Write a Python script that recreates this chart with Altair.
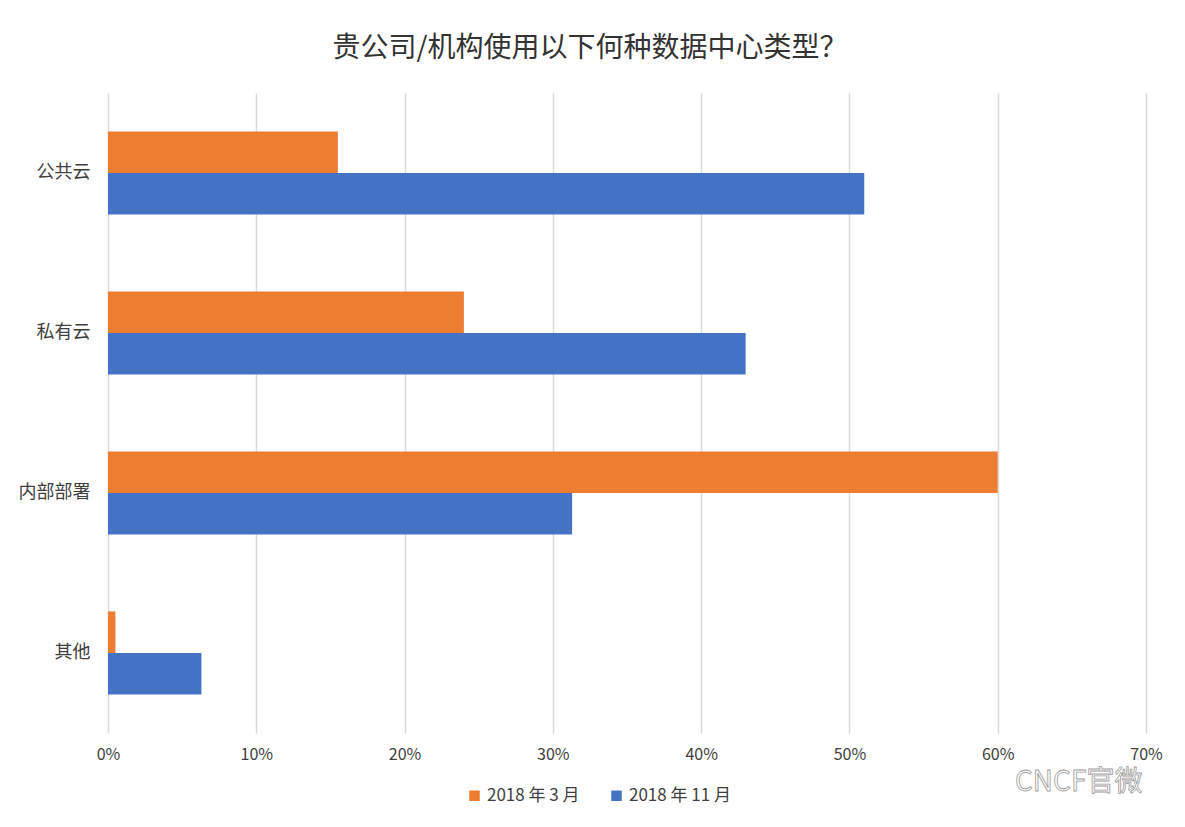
import altair as alt
import pandas as pd

categories = ["公共云", "私有云", "内部部署", "其他"]
series = ["2018 年 3 月", "2018 年 11 月"]
mar_2018 = [0.155, 0.24, 0.60, 0.005]
nov_2018 = [0.51, 0.43, 0.313, 0.063]
colors = ["#ED7D31", "#4472C4"]
title_text = "贵公司/机构使用以下何种数据中心类型？"
watermark = "CNCF官微"

rows = []
for c, a, b in zip(categories, mar_2018, nov_2018):
    rows.append({"cat": c, "series": series[0], "value": a})
    rows.append({"cat": c, "series": series[1], "value": b})
df = pd.DataFrame(rows)

FONT = "Noto Sans CJK SC"

bars = alt.Chart(df).mark_bar().encode(
    x=alt.X("value:Q",
            scale=alt.Scale(domain=[0, 0.7], nice=False),
            axis=alt.Axis(format=".0%", values=[0, 0.1, 0.2, 0.3, 0.4, 0.5, 0.6, 0.7],
                          title=None, domain=False, ticks=False, labelFlush=False,
                          grid=True, gridColor="#d9d9d9", gridWidth=1.5,
                          labelFont=FONT, labelFontSize=16, labelColor="#404040",
                          labelPadding=13)),
    y=alt.Y("cat:N", sort=categories,
            scale=alt.Scale(paddingInner=0.48, paddingOuter=0.24),
            axis=alt.Axis(title=None, domain=False, ticks=False,
                          labelFont=FONT, labelFontSize=18, labelColor="#404040",
                          labelPadding=18)),
    yOffset=alt.YOffset("series:N", sort=series),
    color=alt.Color("series:N", sort=series,
                    scale=alt.Scale(domain=series, range=colors),
                    legend=alt.Legend(title=None, orient="none", legendX=358, legendY=694,
                                      direction="horizontal", symbolType="square",
                                      symbolSize=110, symbolStrokeWidth=0,
                                      labelFont=FONT, labelFontSize=17, labelColor="#404040",
                                      columnPadding=28, labelOffset=4)),
)

wm = alt.Chart(pd.DataFrame({"t": [watermark]})).mark_text(
    align="left", baseline="middle", font=FONT, fontSize=28,
    fill="#ffffff", stroke="#9a9a9a", strokeWidth=0.8,
).encode(text="t:N", x=alt.value(907), y=alt.value(690))

chart = alt.layer(bars, wm).properties(
    width=1038, height=640,
    background="white",
    autosize=alt.AutoSizeParams(type="none"),
    padding={"left": 100, "top": 85, "right": 31, "bottom": 86},
    title=alt.TitleParams(title_text, font=FONT, fontSize=28, fontWeight="normal",
                          color="#333333", anchor="middle", dx=-37, offset=30),
).configure_view(strokeWidth=0, stroke=None)

chart.save("out.html", embed_options={"renderer": "svg", "actions": False})
